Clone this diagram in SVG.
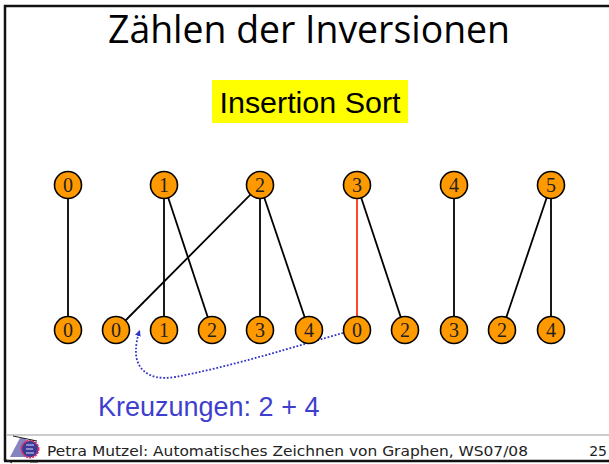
<svg xmlns="http://www.w3.org/2000/svg" width="609" height="464" viewBox="0 0 609 464">
<style>
.n circle{fill:#ff9900;stroke:#000;stroke-width:1.600}
.n text{font-family:"Liberation Serif",serif;font-size:20px;text-anchor:middle;fill:#222}
.e line{stroke:#000;stroke-width:1.800}
.f{font-family:"DejaVu Sans",sans-serif;font-size:14px;fill:#222}
</style>
<defs><marker id="a" markerWidth="8" markerHeight="8" refX="5" refY="3" orient="auto" markerUnits="userSpaceOnUse"><path d="M0 0L6 3L0 6Z" fill="#3333cc"/></marker></defs>
<rect width="609" height="464" fill="#fff"/>
<path d="M5 461V6H609" fill="none" stroke="#111" stroke-width="2.500"/>
<path d="M4 461H609" stroke="#111" stroke-width="2.500"/>
<path d="M6 435H609" stroke="#bbb" stroke-width="1.500"/>
<text x="309" y="43" text-anchor="middle" textLength="402" lengthAdjust="spacingAndGlyphs" font-family="'Open Sans',sans-serif" font-size="38" fill="#000">Zählen der Inversionen</text>
<rect x="212" y="80" width="196" height="43" fill="#ffff00"/>
<text x="310" y="113" text-anchor="middle" textLength="181" lengthAdjust="spacingAndGlyphs" font-family="'Liberation Sans',sans-serif" font-size="29" fill="#000">Insertion Sort</text>
<g id="connectors" class="e">
<line x1="68" y1="185" x2="68" y2="330"/>
<line x1="164" y1="185" x2="164" y2="330"/>
<line x1="164" y1="185" x2="212" y2="330"/>
<line x1="260" y1="185" x2="116" y2="330"/>
<line x1="260" y1="185" x2="260" y2="330"/>
<line x1="260" y1="185" x2="309" y2="330"/>
<line x1="357" y1="185" x2="357" y2="330" style="stroke:#ff3311"/>
<line x1="357" y1="185" x2="405" y2="330"/>
<line x1="454" y1="185" x2="454" y2="330"/>
<line x1="551" y1="185" x2="502" y2="330"/>
<line x1="551" y1="185" x2="551" y2="330"/>
<path d="M343 333C300 345 230 367 175 377C145 382 135 365 136 350C136 345 137 338 139.500 331" fill="none" stroke="#3333cc" stroke-width="1.800" stroke-dasharray="1.800 1.800" marker-end="url(#a)"/>
</g>
<g id="t0" class="n"><circle cx="68" cy="185" r="13.500"/><text x="68" y="192">0</text></g>
<g id="t1" class="n"><circle cx="164" cy="185" r="13.500"/><text x="164" y="192">1</text></g>
<g id="t2" class="n"><circle cx="260" cy="185" r="13.500"/><text x="260" y="192">2</text></g>
<g id="t3" class="n"><circle cx="357" cy="185" r="13.500"/><text x="357" y="192">3</text></g>
<g id="t4" class="n"><circle cx="454" cy="185" r="13.500"/><text x="454" y="192">4</text></g>
<g id="t5" class="n"><circle cx="551" cy="185" r="13.500"/><text x="551" y="192">5</text></g>
<g id="b0" class="n"><circle cx="68" cy="330" r="13.500"/><text x="68" y="337">0</text></g>
<g id="b1" class="n"><circle cx="116" cy="330" r="13.500"/><text x="116" y="337">0</text></g>
<g id="b2" class="n"><circle cx="164" cy="330" r="13.500"/><text x="164" y="337">1</text></g>
<g id="b3" class="n"><circle cx="212" cy="330" r="13.500"/><text x="212" y="337">2</text></g>
<g id="b4" class="n"><circle cx="260" cy="330" r="13.500"/><text x="260" y="337">3</text></g>
<g id="b5" class="n"><circle cx="309" cy="330" r="13.500"/><text x="309" y="337">4</text></g>
<g id="b6" class="n"><circle cx="357" cy="330" r="13.500"/><text x="357" y="337">0</text></g>
<g id="b7" class="n"><circle cx="405" cy="330" r="13.500"/><text x="405" y="337">2</text></g>
<g id="b8" class="n"><circle cx="454" cy="330" r="13.500"/><text x="454" y="337">3</text></g>
<g id="b9" class="n"><circle cx="502" cy="330" r="13.500"/><text x="502" y="337">2</text></g>
<g id="b10" class="n"><circle cx="551" cy="330" r="13.500"/><text x="551" y="337">4</text></g>
<text x="98" y="416" font-family="'Liberation Sans',sans-serif" font-size="27" fill="#3f3fcf">Kreuzungen: 2 + 4</text>
<path d="M10 457L20 438H26L28 457Z" fill="#8484c0"/>
<circle cx="30" cy="449" r="8.500" fill="#3a3a9a" stroke="#d83060" stroke-width="2" stroke-dasharray="2 1"/>
<path d="M26 445H34M26 449H33M26 453H34" stroke="#dcdcf0" stroke-width="1.200"/>
<path d="M13 436L37 441M5 459L12 463M30 462H38" stroke="#222" stroke-width="1" fill="none"/>
<text class="f" x="47" y="456" textLength="481" lengthAdjust="spacingAndGlyphs">Petra Mutzel: Automatisches Zeichnen von Graphen, WS07/08</text>
<text class="f" x="607" y="456" text-anchor="end">25</text>
</svg>
